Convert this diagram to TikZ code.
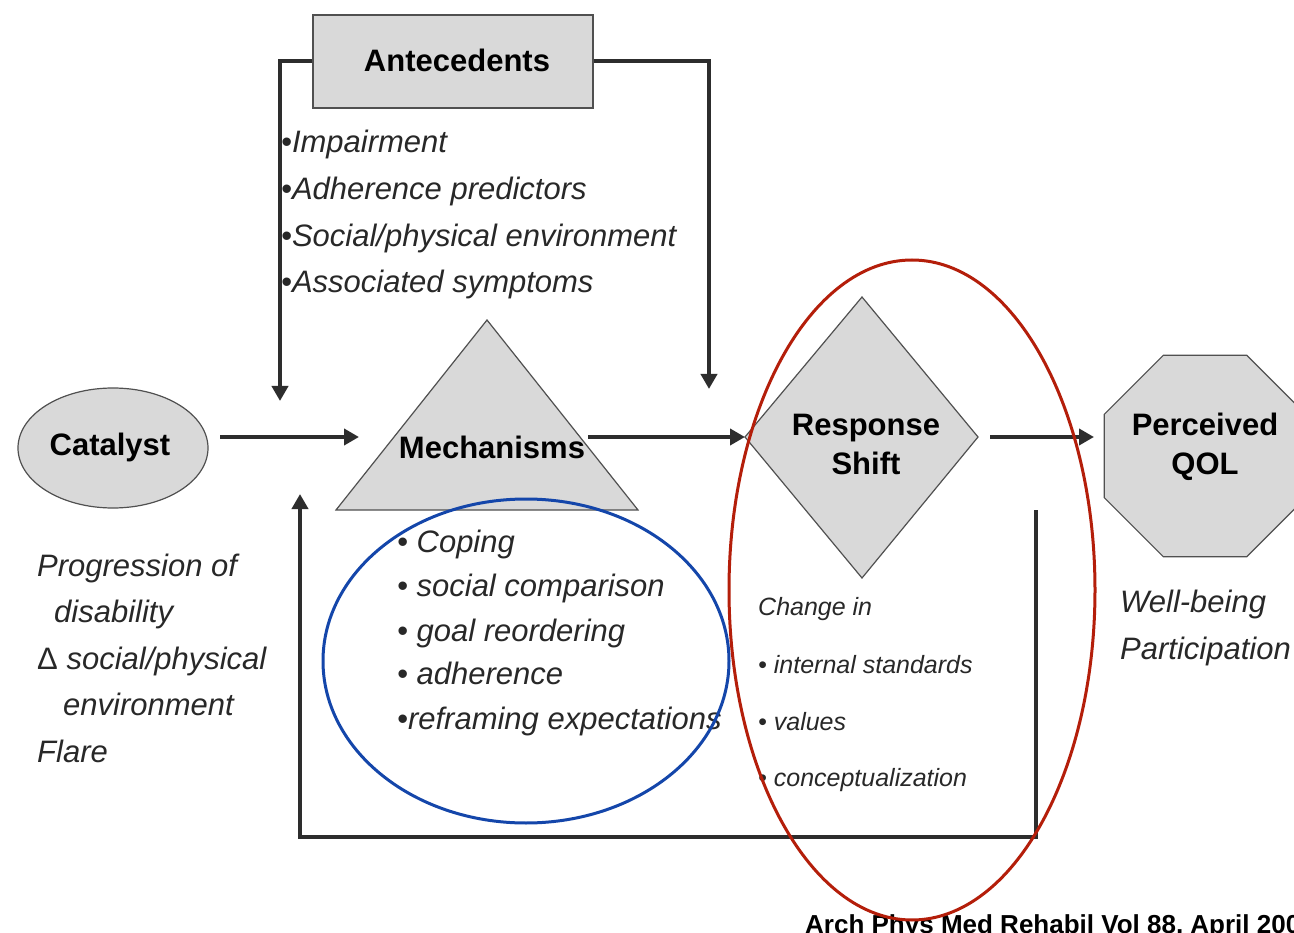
\documentclass[tikz,border=0pt]{standalone}
\usepackage{fontspec}
\setmainfont{Liberation Sans}
\usetikzlibrary{arrows.meta,shapes.geometric}
\definecolor{gfill}{RGB}{217,217,217}
\definecolor{gline}{RGB}{80,80,80}
\definecolor{dark}{RGB}{45,45,45}
\definecolor{txt}{RGB}{40,40,40}
\definecolor{blueov}{RGB}{20,70,170}
\definecolor{redov}{RGB}{180,30,10}
\tikzset{
  shapebox/.style={fill=gfill,draw=gline,line width=1.2pt},
  conn/.style={draw=dark,line width=4pt,-{Triangle[length=15pt,width=16pt]}},
  lbl/.style={font=\bfseries\fontsize{31}{37}\selectfont,text=black,align=center,inner sep=0pt},
  itl/.style={font=\itshape\fontsize{31}{37}\selectfont,text=txt,anchor=base west,inner sep=0pt},
  itls/.style={font=\itshape\fontsize{25}{30}\selectfont,text=txt,anchor=base west,inner sep=0pt},
  oval/.style={line width=3pt},
}
\begin{document}
\begin{tikzpicture}[x=1pt,y=-1pt]
\useasboundingbox (0,0) rectangle (1294,933);
\clip (0,0) rectangle (1294,933);
\fill[white] (0,0) rectangle (1294,933);
% shapes
\node[shapebox,rectangle,minimum width=280pt,minimum height=93pt,inner sep=0pt] (ante) at (453,61.5) {};
\node[lbl] (antetxt) at (457,60) {Antecedents};
\node[shapebox,ellipse,minimum width=190pt,minimum height=120pt,inner sep=0pt] (cat) at (113,448) {};
\node[lbl] (cattxt) at (110,447) {Catalyst};
\coordinate (triA) at (487,320);
\coordinate (triL) at (336,510);
\coordinate (triR) at (638,510);
\path[shapebox] (triA) -- (triR) -- (triL) -- cycle;
\node[lbl] (mech) at (492,447) {Mechanisms};
\coordinate (rsT) at (862,297);
\coordinate (rsR) at (978,437);
\coordinate (rsB) at (862,578);
\coordinate (rsL) at (745,437);
\path[shapebox] (rsT) -- (rsR) -- (rsB) -- (rsL) -- cycle;
\node[lbl] (rs) at (866,444) {Response\\[2pt]Shift};
\node[shapebox,regular polygon,regular polygon sides=8,minimum size=218pt,inner sep=0pt] (qol) at (1205,456) {};
\node[lbl] (qoltxt) at (1205,447) {Perceived\\[2pt]QOL};
% connectors
\coordinate (antL) at (280,401);
\coordinate (antR) at (709,389);
\draw[conn] (ante.west) -| (antL);
\draw[conn] (ante.east) -| (antR);
\coordinate (catOut) at (220,437);
\coordinate (mechIn) at (359,437);
\draw[conn] (catOut) -- (mechIn);
\coordinate (mechOut) at (588,437);
\draw[conn] (mechOut) -- (rsL);
\coordinate (rsOut) at (990,437);
\coordinate (qolIn) at (1094,437);
\draw[conn] (rsOut) -- (qolIn);
\coordinate (fbTop) at (1036,510);
\coordinate (fbBR) at (1036,837);
\coordinate (fbBL) at (300,837);
\coordinate (fbTip) at (300,494);
\draw[conn] (fbTop) -- (fbBR) -- (fbBL) -- (fbTip);
% antecedents list
\node[itl] (a1) at (281,153) {•Impairment};
\node[itl] (a2) at (281,200) {•Adherence predictors};
\node[itl] (a3) at (281,247) {•Social/physical environment};
\node[itl] (a4) at (281,293) {•Associated symptoms};
% catalyst list
\node[itl] (c1) at (37,576) {Progression of};
\node[itl] (c2) at (54,622) {disability};
\node[itl] (c3) at (37,669) {{\upshape Δ} social/physical};
\node[itl] (c4) at (63,715) {environment};
\node[itl] (c5) at (37,762) {Flare};
% mechanisms list
\node[itl] (m1) at (397,552) {• Coping};
\node[itl] (m2) at (397,596) {• social comparison};
\node[itl] (m3) at (397,641) {• goal reordering};
\node[itl] (m4) at (397,684) {• adherence};
\node[itl] (m5) at (397,729) {•reframing expectations};
% response shift list
\node[itls] (r0) at (758,615) {Change in};
\node[itls] (r1) at (758,673) {• internal standards};
\node[itls] (r2) at (758,730) {• values};
\node[itls] (r3) at (758,786) {• conceptualization};
% QOL list
\node[itl] (q1) at (1120,612) {Well-being};
\node[itl] (q2) at (1120,659) {Participation};
% citation
\node[font=\bfseries\fontsize{26}{30}\selectfont,anchor=base west,inner sep=0pt] (cite) at (805,933) {Arch Phys Med Rehabil Vol 88, April 2007};
% highlight ovals
\draw[oval,draw=blueov] (526,661) ellipse [x radius=203, y radius=162];
\draw[oval,draw=redov] (912,590) ellipse [x radius=183, y radius=330];
\end{tikzpicture}
\end{document}
